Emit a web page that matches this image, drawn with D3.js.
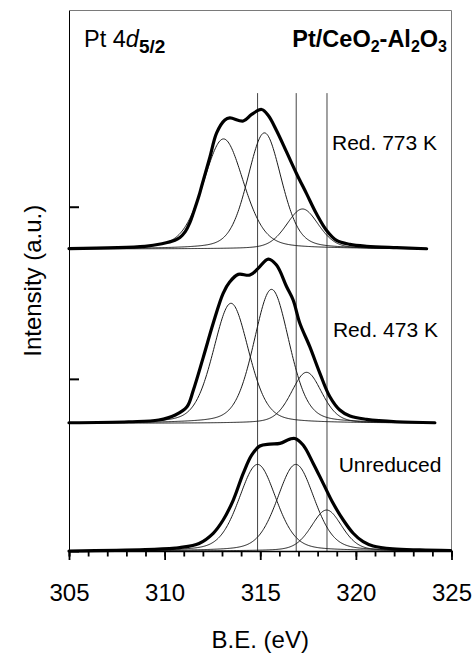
<!DOCTYPE html>
<html>
<head>
<meta charset="utf-8">
<script src="https://cdn.jsdelivr.net/npm/d3@7"></script>
<style>
  body { margin: 0; background: #fff; }
  svg { display: block; font-family: Arial, "Liberation Sans", sans-serif; }
</style>
</head>
<body>
<svg id="chart"></svg>
<script>
// x axis (binding energy, eV)
let majorTicks = [305, 310, 315, 320, 325];
let minorTicks = [305, 306, 307, 308, 309, 310, 311, 312, 313, 314, 315,
                  316, 317, 318, 319, 320, 321, 322, 323, 324, 325];
// y axis ticks (a.u.), no labels
let intensityTicks = [0, 1, 2];

// vertical reference lines = unreduced peak positions
let refLines = [314.86, 316.88, 318.49];
let refLineTop = 2.66;

// the three spectra, top to bottom
let spectra = ["Red. 773 K", "Red. 473 K", "Unreduced"];
let baselines = [1.755, 0.742, 0];

// fitted components: centre (eV), height (a.u.), FWHM (eV)
let peakCentres = [[313.08, 315.22, 317.21], [313.47, 315.59, 317.42], [314.86, 316.86, 318.47]];
let peakHeights = [[0.639, 0.674, 0.232], [0.697, 0.778, 0.296], [0.503, 0.503, 0.238]];
let peakFwhm    = [[2.5, 2.1, 2.0], [2.2, 2.2, 1.9], [2.3, 2.3, 1.9]];
let lorentzMix = 0.3;

// measured envelopes [B.E., intensity above baseline]
let env773 = [[305, 0.002], [308.97, 0.015], [309.86, 0.03], [310.54, 0.05], [310.8, 0.066],
  [311.08, 0.1], [311.32, 0.152], [311.52, 0.215], [311.8, 0.31], [311.95, 0.37],
  [312.37, 0.534], [312.72, 0.674], [313.15, 0.749], [313.41, 0.761], [314.11, 0.743],
  [314.55, 0.781], [315.07, 0.81], [315.42, 0.775], [315.85, 0.688], [316.38, 0.562],
  [316.9, 0.437], [317.42, 0.321], [317.94, 0.204], [318.47, 0.107], [318.99, 0.049],
  [319.69, 0.026], [320.56, 0.015], [322.13, 0.007], [323.7, 0.001]];
let env473 = [[305, 0.003], [308.12, 0.009], [309.69, 0.019], [310.56, 0.048], [311.17, 0.096],
  [311.5, 0.192], [312.02, 0.383], [312.54, 0.581], [313.06, 0.755], [313.41, 0.822],
  [313.85, 0.865], [314.46, 0.861], [314.89, 0.9], [315.42, 0.954], [315.85, 0.919],
  [316.38, 0.793], [316.72, 0.716], [317.07, 0.581], [317.59, 0.445], [318.12, 0.29],
  [318.64, 0.154], [319.16, 0.077], [319.69, 0.042], [320.56, 0.023], [322.13, 0.009],
  [324.13, 0.003]];
let envUnred = [[305, 0.0], [308.99, 0.008], [310.56, 0.017], [310.8, 0.02], [311.8, 0.044],
  [312.54, 0.103], [313.06, 0.18], [313.59, 0.296], [314.11, 0.451], [314.55, 0.557],
  [314.98, 0.61], [315.5, 0.621], [316.03, 0.625], [316.55, 0.65], [316.81, 0.654],
  [317.24, 0.616], [317.77, 0.509], [318.29, 0.393], [318.81, 0.277], [319.34, 0.18],
  [319.86, 0.103], [320.38, 0.054], [320.9, 0.029], [321.93, 0.012], [323.34, 0.006],
  [324.96, 0.003]];
let envelopes = [env773, env473, envUnred];

function getConfig() {
    let width = 474;
    let height = 657;
    let margin = { top: 10.5, left: 69, right: 474 - 451.5, bottom: 657 - 551 };
    let container = d3.select("#chart").attr("width", width).attr("height", height);
    return { width, height, margin, container };
}

function getScales(config) {
    let { width, height, margin } = config;
    let xScale = d3.scaleLinear().domain([305, 325]).range([margin.left, width - margin.right]);
    let yScale = d3.scaleLinear().domain([0, 3.14]).range([height - margin.bottom, margin.top]);
    return { xScale, yScale };
}

// pseudo-Voigt line shape of one fitted component
function component(be, c, h, w) {
    let u = 4 * (be - c) * (be - c) / (w * w);
    return h * ((1 - lorentzMix) * Math.exp(-Math.LN2 * u) + lorentzMix / (1 + u));
}

function drawFrame(scales, config) {
    let { xScale, yScale } = scales;
    let { container } = config;
    // top and right border of plot area
    container.append("path")
        .attr("d", `M${xScale(305)},${yScale(3.14)}H${xScale(325)}V${yScale(0)}`)
        .attr("fill", "none").attr("stroke", "#7a7a7a").attr("stroke-width", 1);

    container.append("g").selectAll("line")
        .data(refLines).enter().append("line")
        .attr("x1", d => xScale(d)).attr("x2", d => xScale(d))
        .attr("y1", yScale(refLineTop)).attr("y2", yScale(0))
        .attr("stroke", "#444").attr("stroke-width", 1);
}

function drawSpectra(scales) {
    let { xScale, yScale } = scales;
    let body = d3.select("#chart").append("g");
    let labelBE = [318.75, 318.8, 319.1];
    let labelOffset = [0.574, 0.502, 0.46];

    spectra.forEach((name, i) => {
        let base = baselines[i];
        let env = envelopes[i];
        let xs = d3.range(305, env[env.length - 1][0] + 0.001, 0.04);

        // thin fitted components
        peakCentres[i].forEach((c, k) => {
            let pts = xs.map(be => [be, component(be, c, peakHeights[i][k], peakFwhm[i][k])]);
            body.append("path")
                .datum(pts)
                .attr("d", d3.line().x(d => xScale(d[0])).y(d => yScale(base + d[1])))
                .attr("fill", "none").attr("stroke", "#1a1a1a").attr("stroke-width", 1);
        });

        // thick measured envelope
        body.append("path")
            .datum(env)
            .attr("d", d3.line().x(d => xScale(d[0])).y(d => yScale(base + d[1]))
                .curve(d3.curveCatmullRom.alpha(0.5)))
            .attr("fill", "none").attr("stroke", "#000").attr("stroke-width", 3.2)
            .attr("stroke-linecap", "round").attr("stroke-linejoin", "round");

        body.append("text")
            .attr("x", xScale(labelBE[i]))
            .attr("y", yScale(base + labelOffset[i]))
            .attr("font-size", 21)
            .text(name);
    });
}

function drawAxes(scales, config) {
    let { xScale, yScale } = scales;
    let { container, height, margin } = config;

    let minorAxis = d3.axisBottom(xScale).tickValues(minorTicks).tickSize(5.5).tickFormat("");
    container.append("g")
        .attr("transform", `translate(0,${height - margin.bottom})`)
        .call(minorAxis)
        .call(g => g.select(".domain").attr("stroke-width", 1.5))
        .call(g => g.selectAll(".tick line").attr("stroke-width", 1.8));

    let majorAxis = d3.axisBottom(xScale).tickValues(majorTicks).tickSize(9).tickSizeOuter(0).tickPadding(24);
    container.append("g")
        .attr("transform", `translate(0,${height - margin.bottom})`)
        .call(majorAxis)
        .call(g => g.select(".domain").remove())
        .call(g => g.selectAll(".tick line").attr("stroke-width", 1.8))
        .call(g => g.selectAll("text").attr("font-size", 24).attr("font-family", "Arial, 'Liberation Sans', sans-serif").attr("fill", "#000"));

    let axisY = d3.axisRight(yScale).tickValues(intensityTicks).tickSize(10).tickSizeOuter(0).tickFormat("");
    container.append("g")
        .attr("transform", `translate(${margin.left},0)`)
        .call(axisY)
        .call(g => g.selectAll(".tick line").attr("stroke-width", 2));

    container.append("text")
        .attr("x", xScale(315)).attr("y", 648)
        .attr("text-anchor", "middle").attr("font-size", 24)
        .text("B.E. (eV)");

    container.append("text")
        .attr("transform", `translate(41,${yScale(1.57)}) rotate(-90)`)
        .attr("text-anchor", "middle").attr("font-size", 24)
        .text("Intensity (a.u.)");

    // panel titles
    let t1 = container.append("text").attr("x", 84).attr("y", 47).attr("font-size", 23.5);
    t1.append("tspan").text("Pt 4");
    t1.append("tspan").attr("font-style", "italic").text("d");
    t1.append("tspan").attr("font-size", 19).attr("font-weight", "bold").attr("dy", 6).text("5/2");

    let t2 = container.append("text").attr("x", 447).attr("y", 47)
        .attr("text-anchor", "end").attr("font-size", 23.5).attr("font-weight", "bold");
    t2.append("tspan").text("Pt/CeO");
    t2.append("tspan").attr("font-size", 16).attr("dy", 5).text("2");
    t2.append("tspan").attr("dy", -5).text("-Al");
    t2.append("tspan").attr("font-size", 16).attr("dy", 5).text("2");
    t2.append("tspan").attr("dy", -5).text("O");
    t2.append("tspan").attr("font-size", 16).attr("dy", 5).text("3");
}

let config = getConfig();
let scales = getScales(config);
drawFrame(scales, config);
drawSpectra(scales);
drawAxes(scales, config);
</script>
</body>
</html>
